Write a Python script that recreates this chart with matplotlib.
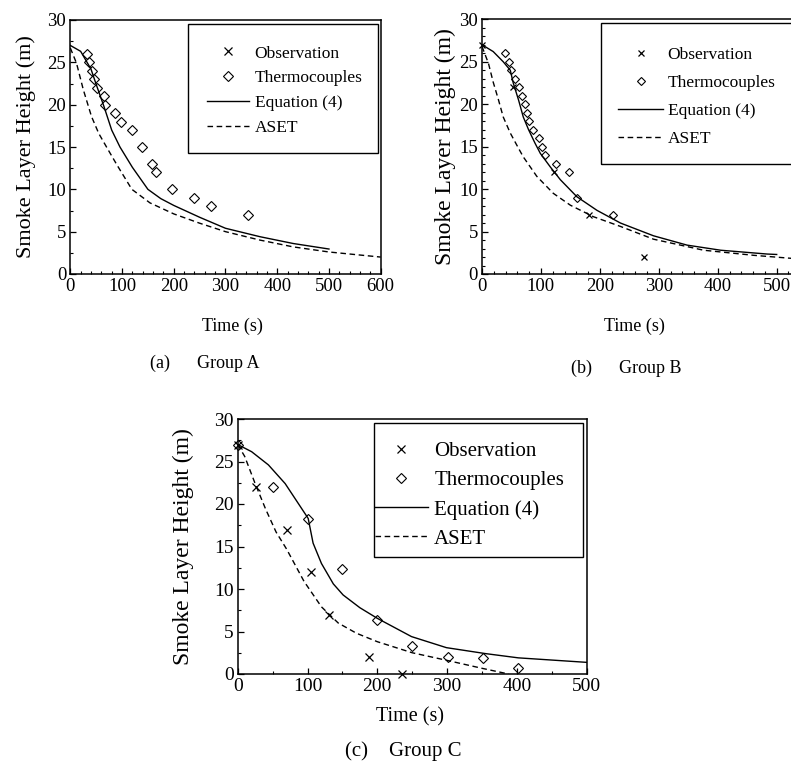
import matplotlib
matplotlib.use("Agg")
import matplotlib.pyplot as plt
from matplotlib.patches import Rectangle
from matplotlib.ticker import MultipleLocator

plt.rcParams['font.family'] = ['Liberation Serif', 'DejaVu Serif']

# ---------------- data ----------------
# Group A
thermo_a_t = [32, 37, 41, 46, 51, 66, 68, 86, 98, 120, 139, 157, 166, 197, 240, 272, 343]
thermo_a_h = [26, 25, 24, 23, 22, 21, 20, 19, 18, 17, 15, 13, 12, 10, 9, 8, 7]
eq_a_t = [0, 20, 40, 50, 65, 80, 96, 120, 150, 175, 200, 250, 300, 367, 431, 500]
eq_a_h = [27.0, 26.3, 24.2, 22.4, 19.8, 17.0, 15.0, 12.6, 10.0, 8.9, 8.1, 6.7, 5.4, 4.4, 3.6, 2.95]
aset_a_t = [0, 12, 25, 41, 55, 70, 90, 119, 154, 200, 250, 300, 367, 431, 500, 600]
aset_a_h = [26.7, 24.9, 21.8, 18.6, 16.6, 15.0, 12.9, 10.0, 8.4, 7.1, 6.0, 5.0, 4.0, 3.2, 2.6, 2.0]

# Group B
obs_b_t = [0, 52, 123, 181, 275]
obs_b_h = [27, 22, 12, 7, 2]
thermo_b_t = [39, 45, 50, 56, 62, 68, 73, 76, 80, 87, 96, 101, 107, 126, 148, 162, 222]
thermo_b_h = [26, 25, 24, 23, 22, 21, 20, 19, 18, 17, 16, 15, 14, 13, 12, 9, 7]
eq_b_t = [0, 19, 36, 48, 53, 62, 70, 79, 90, 99, 116, 133, 161, 195, 235, 291, 348, 405, 484, 500]
eq_b_h = [27.0, 26.2, 25.0, 24.0, 22.5, 20.5, 18.5, 17.0, 15.4, 14.2, 12.6, 11.1, 9.1, 7.5, 6.0, 4.5, 3.4, 2.8, 2.35, 2.3]
aset_b_t = [0, 11, 19, 28, 36, 48, 62, 70, 93, 121, 150, 189, 235, 291, 376, 461, 524, 550]
aset_b_h = [26.8, 24.8, 22.6, 20.5, 18.5, 16.6, 14.8, 13.8, 11.5, 9.5, 8.1, 6.75, 5.6, 4.1, 2.8, 2.2, 1.85, 1.7]

# Group C
obs_c_t = [0, 26, 71, 105, 131, 188, 235]
obs_c_h = [27, 22, 17, 12, 7, 2, 0]
thermo_c_t = [0, 51, 101, 150, 200, 250, 302, 352, 402]
thermo_c_h = [27, 22, 18.2, 12.4, 6.3, 3.3, 2.0, 1.9, 0.7]
eq_c_t = [0, 20, 44, 68, 101, 108, 120, 137, 151, 175, 200, 249, 299, 355, 402, 500]
eq_c_h = [27.0, 26.15, 24.6, 22.4, 18.3, 15.4, 13.0, 10.6, 9.3, 7.8, 6.55, 4.4, 3.1, 2.4, 1.9, 1.37]
aset_c_t = [0, 10, 25, 40, 55, 70, 95, 120, 144, 170, 200, 250, 300, 350, 388]
aset_c_h = [27.0, 25.6, 22.4, 19.4, 16.7, 14.7, 10.9, 7.9, 6.0, 4.8, 3.8, 2.5, 1.6, 0.67, 0.0]

labels = ["Observation", "Thermocouples", "Equation (4)", "ASET"]

W, H = 791, 763
fig = plt.figure(figsize=(W / 100, H / 100), dpi=100)


def px_axes(l, t, r, b):
    return fig.add_axes([l / W, 1 - b / H, (r - l) / W, (b - t) / H])


DASH = (0, (4.0, 2.6))


def panel(ax, obs, thermo, eq, aset, xmax, xmajor, xminor, yminor, fs, lfs, yfs, ypad,
          msz_d, msz_x, frame, leg):
    h_obs, = ax.plot(obs[0], obs[1], linestyle='none', marker='x', color='black',
                     markersize=msz_x, markeredgewidth=0.9, clip_on=False)
    h_th, = ax.plot(thermo[0], thermo[1], linestyle='none', marker='D', mfc='none',
                    mec='black', markersize=msz_d, markeredgewidth=0.8, clip_on=False)
    h_eq, = ax.plot(eq[0], eq[1], color='black', lw=1.0)
    h_as, = ax.plot(aset[0], aset[1], color='black', lw=1.0, linestyle=DASH)
    ax.set_xlim(0, xmax)
    ax.set_ylim(0, 30)
    ax.xaxis.set_major_locator(MultipleLocator(xmajor))
    ax.xaxis.set_minor_locator(MultipleLocator(xminor))
    ax.yaxis.set_major_locator(MultipleLocator(5))
    ax.yaxis.set_minor_locator(MultipleLocator(yminor))
    ax.tick_params(which='both', direction='in', labelsize=fs, pad=3)
    ax.tick_params(which='major', length=4, width=0.9)
    ax.tick_params(which='minor', length=2.5, width=0.8)
    for s in ax.spines.values():
        s.set_linewidth(1.1)
    ax.set_ylabel("Smoke Layer Height (m)", fontsize=yfs, labelpad=ypad)
    x0, y0, x1, y1 = frame
    ax.add_patch(Rectangle((x0, y0), x1 - x0, y1 - y0, transform=ax.transAxes,
                           fill=False, edgecolor='black', lw=1.0, zorder=5,
                           clip_on=False))
    lx, ly, hl, ls, htp = leg
    ax.legend([h_obs, h_th, h_eq, h_as], labels, loc='upper left',
              bbox_to_anchor=(lx, ly), frameon=False, fontsize=lfs,
              handlelength=hl, labelspacing=ls, handletextpad=htp,
              borderpad=0, borderaxespad=0, markerscale=1.0)
    return ax


# Panel (a)
ax_a = px_axes(70.3, 20, 380.7, 274)
panel(ax_a, ([], []), (thermo_a_t, thermo_a_h), (eq_a_t, eq_a_h), (aset_a_t, aset_a_h),
      600, 100, 20, 2.5, 13.5, 12.5, 16, 8, 4.6, 5.5,
      (0.379, 0.476, 0.991, 0.984), (0.44, 0.9, 2.45, 0.5, 0.3))

# Panel (b)
ax_b = px_axes(482, 19.3, 482 + 550 * 0.5894, 274)
panel(ax_b, (obs_b_t, obs_b_h), (thermo_b_t, thermo_b_h), (eq_b_t, eq_b_h),
      (aset_b_t, aset_b_h), 550, 100, 20, 1, 13.5, 12.5, 17, 2, 4.3, 4.5,
      (0.366, 0.431, 1.02, 0.987), (0.42, 0.89, 2.6, 0.68, 0.25))

# Panel (c)
ax_c = px_axes(237.7, 419, 586.7, 674)
panel(ax_c, (obs_c_t, obs_c_h), (thermo_c_t, thermo_c_h), (eq_c_t, eq_c_h),
      (aset_c_t, aset_c_h), 500, 100, 50, 2.5, 14, 15, 17, 14, 4.6, 6,
      (0.3905, 0.46, 0.9885, 0.983), (0.393, 0.912, 2.55, 0.46, 0.3))

# axis titles and captions
fig.text(232 / W, 1 - 326 / H, "Time (s)", ha='center', va='center', fontsize=13)
fig.text(634 / W, 1 - 326 / H, "Time (s)", ha='center', va='center', fontsize=13)
fig.text(410.5 / W, 1 - 717 / H, "Time (s)", ha='center', va='center', fontsize=14.5)
fig.text(205 / W, 1 - 363 / H, "(a)      Group A", ha='center', va='center', fontsize=13)
fig.text(626 / W, 1 - 368 / H, "(b)      Group B", ha='center', va='center', fontsize=13)
fig.text(403 / W, 1 - 751 / H, "(c)    Group C", ha='center', va='center', fontsize=15)

fig.savefig("out.png", dpi=100)
